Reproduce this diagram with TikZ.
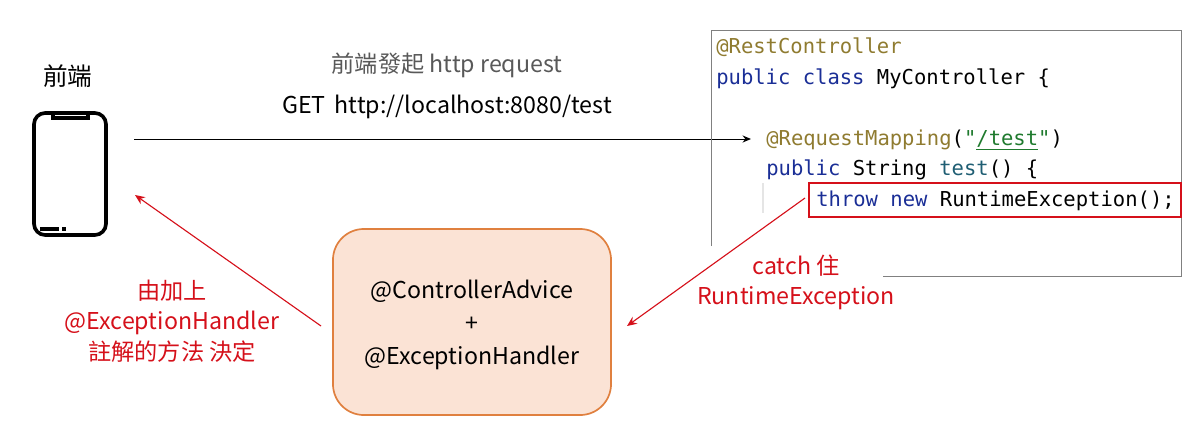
\documentclass[tikz,border=0pt]{standalone}
\usepackage{fontspec}
\setmainfont{Noto Sans CJK TC}
\newfontfamily\codefont{DejaVu Sans Mono}
\usetikzlibrary{positioning,arrows.meta}
\definecolor{annotcol}{HTML}{8F7B30}
\definecolor{kwcol}{HTML}{1A2E96}
\definecolor{strcol}{HTML}{1F7A2E}
\definecolor{methcol}{HTML}{1F5E73}
\definecolor{redcol}{HTML}{D5101A}
\definecolor{boxfill}{HTML}{FBE3D5}
\definecolor{boxline}{HTML}{E0803F}
\tikzset{
  label/.style={inner sep=0pt,font=\fontsize{16.5}{22}\selectfont,align=center},
  redlabel/.style={label,text=redcol},
  codeline/.style={anchor=base west,inner sep=0pt,font=\codefont\fontsize{14.6}{18}\selectfont},
  redarrow/.style={draw=redcol,line width=0.8pt,-{Stealth[length=7pt,width=6pt]}},
  panelline/.style={draw=black!50,line width=0.7pt}
}
\begin{document}
\begin{tikzpicture}[x=0.025cm,y=-0.025cm]
\useasboundingbox (0,0) rectangle (1199,434);

% phone
\node[label,font=\fontsize{17.5}{22}\selectfont] (front) at (68,76.5) {前端};
\node[draw,line width=2.6pt,rounded corners=8pt,minimum width=1.8cm,minimum height=3.05cm,inner sep=0pt] (phone) at (70,174) {};
\draw[line width=2.2pt] (53,113) -- (53,118) -- (88,118) -- (88,113);
\draw[line width=2.6pt] (40,229) -- (59,229);
\draw[line width=2.6pt] (62,229) -- (66,229);

% request
\node[label,text=black!65] (req) at (447,65) {前端發起 http request};
\node[label] (url) at (447,107) {GET\, http://localhost:8080/test};
\coordinate (reqstart) at (134,139);
\coordinate (reqend) at (751,139);
\draw[line width=0.7pt,-{Stealth[length=6pt,width=5pt]}] (reqstart) -- (reqend);

% code panel
\coordinate (p1) at (711,246);
\coordinate (p2) at (711,30);
\coordinate (p3) at (1181,30);
\coordinate (p4) at (1181,276);
\coordinate (p5) at (883,276);
\draw[panelline] (p1) -- (p2) -- (p3) -- (p4) -- (p5);
\draw[black!10,line width=0.8pt] (763,183) -- (763,213);
\node[codeline,text=annotcol] (l1) at (716,54) {@RestController};
\node[codeline] (l2) at (716,84) {\textcolor{kwcol}{public class} MyController \{};
\node[codeline,text=annotcol] (l3) at (766,145) {@RequestMapping\textcolor{black}{(}\textcolor{strcol}{"\underline{/test}"}\textcolor{black}{)}};
\node[codeline] (l4) at (766,175) {\textcolor{kwcol}{public} String \textcolor{methcol}{test}() \{};
\node[codeline] (l5) at (816,206) {\textcolor{kwcol}{throw new} RuntimeException();};
\node[draw=redcol,line width=1.4pt,minimum width=9.3cm,minimum height=0.85cm,inner sep=0pt] (throwbox) at (995,200) {};

% advice box
\node[draw=boxline,fill=boxfill,line width=1.2pt,rounded corners=22pt,minimum width=6.95cm,minimum height=4.65cm] (advice) at (472,322) {};
\node[label,font=\fontsize{16.5}{23.5}\selectfont] (advicetext) at (472,325) {@ControllerAdvice\\+\\@ExceptionHandler};

% catch
\coordinate (catchstart) at (805,198);
\coordinate (catchend) at (627,326);
\draw[redarrow] (catchstart) -- (catchend);
\node[redlabel,font=\fontsize{16.5}{21.5}\selectfont] (catch) at (796,282) {catch 住\\RuntimeException};

% return
\coordinate (retstart) at (321,326);
\coordinate (retend) at (135,195);
\draw[redarrow] (retstart) -- (retend);
\node[redlabel,font=\fontsize{16.5}{21.5}\selectfont] (ret) at (172,321) {由加上\\@ExceptionHandler\\註解的方法 決定};

\end{tikzpicture}
\end{document}
